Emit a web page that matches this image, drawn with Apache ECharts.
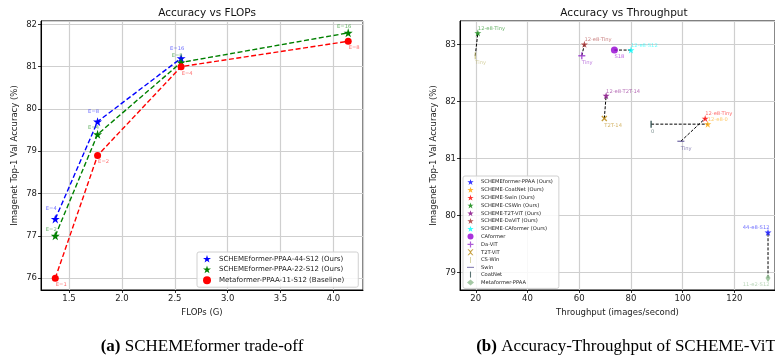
<!DOCTYPE html>
<html><head><meta charset="utf-8">
<script src="https://cdn.jsdelivr.net/npm/echarts@6/dist/echarts.min.js"></script>
<style>html,body{margin:0;padding:0;background:#fff}#c{width:775px;height:358px}</style>
</head><body><div id="c"></div>
<script>
// ---- Left chart data: Accuracy vs FLOPs ----
const flops = [1.37, 1.77, 2.56, 4.14];
const acc44 = [77.4, 79.7, 81.2];
const acc22 = [77.0, 79.4, 81.1, 81.8];
const acc11 = [76.0, 78.9, 81.0, 81.6];
const e44 = ['E=4', 'E=8', 'E=16'];
const e22 = ['E=2', 'E=4', 'E=8', 'E=16'];
const e11 = ['E=1', 'E=2', 'E=4', 'E=8'];
const leftNames = ['SCHEMEformer-PPAA-44-S12 (Ours)', 'SCHEMEformer-PPAA-22-S12 (Ours)', 'Metaformer-PPAA-11-S12 (Baseline)'];

// ---- Right chart data: Accuracy vs Throughput ----
const oursNames = ['SCHEMEformer-PPAA (Ours)', 'SCHEME-CoatNet (Ours)', 'SCHEME-Swin (Ours)', 'SCHEME-CSWin (Ours)', 'SCHEME-T2T-ViT (Ours)', 'SCHEME-DaViT (Ours)', 'SCHEME-CAformer (Ours)'];
const oursThroughput = [133, 109.7, 108.7, 20.8, 70.4, 62.0, 80.0];
const oursAcc = [79.7, 81.6, 81.7, 83.2, 82.1, 83.0, 82.9];
const oursLabels = ['44-e8-S12', '12-e8-0', '12-e8-Tiny', '12-e8-Tiny', '12-e8-T2T-14', '12-e8-Tiny', '12-e8-S12'];
const baseNames = ['Metaformer-PPAA', 'CoatNet', 'Swin', 'CS-Win', 'T2T-ViT', 'Da-ViT', 'CAformer'];
const baseThroughput = [133, 87.8, 99.3, 19.8, 69.7, 61.0, 73.6];
const baseAcc = [78.9, 81.6, 81.3, 82.8, 81.7, 82.8, 82.9];
const baseLabels = ['11-e2-S12', '0', 'Tiny', 'Tiny', 'T2T-14', 'Tiny', 'S18'];

// ---- styles ----
const STAR = 'path://M0,-10L2.245,-3.09L9.51,-3.09L3.633,1.18L5.878,8.09L0,3.82L-5.878,8.09L-3.633,1.18L-9.51,-3.09L-2.245,-3.09Z';
const PLUS = 'path://M4,0h2v4h4v2h-4v4h-2v-4h-4v-2h4z';
const VBAR = 'path://M0,0h1.3v10h-1.3z';
const VBAR2 = 'path://M0,0h1.8v10h-1.8z';
const HBAR = 'path://M0,0h10v1.3h-10z';
const oursColors = ['#0000ff', '#ffa500', '#ff0000', '#008000', '#800080', '#a52a2a', '#00ffff'];
const baseColors = ['#8fbc8f', '#2f4f4f', '#483d8b', '#bdb76b', '#b8860b', '#9932cc', '#9400d3'];
const baseSymbols = [
  {symbol: 'diamond', size: [5, 8], rot: 0, icon: 'diamond'},
  {symbol: 'rect', size: [1.6, 7], rot: 0, icon: VBAR2},
  {symbol: 'rect', size: [7, 1.2], rot: 0, icon: HBAR},
  {symbol: 'rect', size: [1.2, 7], rot: 0, icon: VBAR},
  {symbol: PLUS, size: [7, 7], rot: 45, icon: 'path://M0,0L2,0L5,3L8,0L10,0L6,4.5L6,5.5L10,10L8,10L5,7L2,10L0,10L4,5.5L4,4.5Z'},
  {symbol: PLUS, size: [7, 7], rot: 0, icon: PLUS},
  {symbol: 'circle', size: [7, 7], rot: 0, icon: 'circle'}
];
function alpha(hex, a) {
  const n = parseInt(hex.slice(1), 16);
  return 'rgba(' + ((n >> 16) & 255) + ',' + ((n >> 8) & 255) + ',' + (n & 255) + ',' + a + ')';
}
const FONT = 'DejaVu Sans';
const gridLine = {show: true, lineStyle: {color: '#cfcfcf', width: 1.2}};
const axisLine = {show: true, lineStyle: {color: '#000', width: 1}};
const axisTick = {show: true, length: 3, lineStyle: {color: '#000', width: 0.8}};
const axisLabel = {fontFamily: FONT, fontSize: 8.5, color: '#222', margin: 4, showMinLabel: false, showMaxLabel: false};
const nameStyle = {fontFamily: FONT, fontSize: 8.5, color: '#222'};

function leftSeries(name, ys, labels, color, sym, symSize, off) {
  return {
    name: name, type: 'line', xAxisIndex: 0, yAxisIndex: 0,
    data: ys.map((y, i) => ({value: [flops[i], y], label: {formatter: labels[i]}})),
    symbol: sym, symbolSize: symSize,
    itemStyle: {color: color},
    lineStyle: {color: color, width: 1.4, type: [5, 2.5]},
    label: {show: true, position: 'inside', align: 'center', verticalAlign: 'middle', offset: off,
      fontFamily: FONT, fontSize: 5.2, color: alpha(color, 0.6)},
    emphasis: {disabled: true}, animation: false, z: 3
  };
}

const series = [
  leftSeries(leftNames[0], acc44, e44, '#0000ff', STAR, 9, [-4, -10]),
  leftSeries(leftNames[1], acc22, e22, '#008000', STAR, 9, [-4, -6.5]),
  leftSeries(leftNames[2], acc11, e11, '#ff0000', 'circle', 7, [6, 6.5])
];

// connectors
for (let i = 0; i < oursNames.length; i++) {
  series.push({
    type: 'line', xAxisIndex: 1, yAxisIndex: 1, silent: true, symbol: 'none',
    data: [[baseThroughput[i], baseAcc[i]], [oursThroughput[i], oursAcc[i]]],
    lineStyle: {color: '#000', width: 1, type: [3, 1.6]}, animation: false, z: 2
  });
}
for (let i = 0; i < oursNames.length; i++) {
  const right = i === 0;
  series.push({
    name: oursNames[i], type: 'scatter', xAxisIndex: 1, yAxisIndex: 1,
    data: [{value: [oursThroughput[i], oursAcc[i]], label: {formatter: oursLabels[i]}}],
    symbol: STAR, symbolSize: 7, itemStyle: {color: oursColors[i]},
    label: {show: true, position: 'inside', align: right ? 'right' : 'left', verticalAlign: 'middle',
      offset: right ? [1.5, -4.5] : [0, -4.5], fontFamily: FONT, fontSize: 5.2, color: alpha(oursColors[i], 0.75)},
    emphasis: {disabled: true}, animation: false, z: 4
  });
}
for (let i = 0; i < baseNames.length; i++) {
  const right = i === 0;
  const s = baseSymbols[i];
  series.push({
    name: baseNames[i], type: 'scatter', xAxisIndex: 1, yAxisIndex: 1,
    data: [{value: [baseThroughput[i], baseAcc[i]], label: {formatter: baseLabels[i]}}],
    symbol: s.symbol, symbolSize: s.size, symbolRotate: s.rot, itemStyle: {color: baseColors[i]},
    label: {show: true, position: 'inside', align: right ? 'right' : 'left', verticalAlign: 'middle',
      offset: right ? [1.5, 7] : [0, 7], fontFamily: FONT, fontSize: 5.2, color: alpha(baseColors[i], 0.8)},
    emphasis: {disabled: true}, animation: false, z: 3
  });
}

const legendRightData = oursNames.map(n => ({name: n, icon: STAR}))
  .concat(baseNames.map((n, i) => ({name: n, icon: baseSymbols[i].icon})).reverse());

const captionStyle = {fontFamily: 'Liberation Serif', fontSize: 17, fontWeight: 'normal', color: '#000',
  rich: {b: {fontFamily: 'Liberation Serif', fontSize: 17, fontWeight: 'bold', color: '#000'}}};

const option = {
  backgroundColor: '#fff',
  animation: false,
  title: [
    {text: 'Accuracy vs FLOPs', left: 202, top: 3, textAlign: 'center',
      textStyle: {fontFamily: FONT, fontSize: 10.5, fontWeight: 'normal', color: '#111'}},
    {text: 'Accuracy vs Throughput', left: 619, top: 3, textAlign: 'center',
      textStyle: {fontFamily: FONT, fontSize: 10.5, fontWeight: 'normal', color: '#111'}},
    {text: '{b|(a)} SCHEMEformer trade-off', left: 197, top: 333, textAlign: 'center', textStyle: captionStyle},
    {text: '{b|(b)} Accuracy-Throughput of SCHEME-ViT', left: 621, top: 333, textAlign: 'center', textStyle: captionStyle}
  ],
  grid: [
    {left: 41, top: 21, width: 322, height: 269, show: true, borderColor: '#000', borderWidth: 1, backgroundColor: 'transparent'},
    {left: 460, top: 21, right: -4, height: 269, show: true, borderColor: '#000', borderWidth: 1, backgroundColor: 'transparent'}
  ],
  xAxis: [
    {type: 'value', gridIndex: 0, min: 1.235, max: 4.28, splitNumber: 6,
      name: 'FLOPs (G)', nameLocation: 'middle', nameGap: 17, nameTextStyle: nameStyle,
      axisLine: axisLine, axisTick: axisTick, axisLabel: Object.assign({}, axisLabel, {formatter: v => v.toFixed(1)}), splitLine: gridLine},
    {type: 'value', gridIndex: 1, min: 13.9, max: 135.7, splitNumber: 6,
      name: 'Throughput (images/second)', nameLocation: 'middle', nameGap: 17, nameTextStyle: nameStyle,
      axisLine: axisLine, axisTick: axisTick, axisLabel: axisLabel, splitLine: gridLine}
  ],
  yAxis: [
    {type: 'value', gridIndex: 0, min: 75.72, max: 82.08, splitNumber: 6,
      name: 'Imagenet Top-1 Val Accuracy (%)', nameLocation: 'middle', nameGap: 22, nameTextStyle: nameStyle,
      axisLine: axisLine, axisTick: axisTick, axisLabel: axisLabel, splitLine: gridLine},
    {type: 'value', gridIndex: 1, min: 78.69, max: 83.41, splitNumber: 5,
      name: 'Imagenet Top-1 Val Accuracy (%)', nameLocation: 'middle', nameGap: 22, nameTextStyle: nameStyle,
      axisLine: axisLine, axisTick: axisTick, axisLabel: axisLabel, splitLine: gridLine}
  ],
  legend: [
    {orient: 'vertical', left: 197, top: 252, padding: [3, 14, 3, 6], itemGap: 3, itemWidth: 8, itemHeight: 8,
      backgroundColor: 'rgba(255,255,255,0.85)', borderColor: '#d0d0d0', borderWidth: 1, borderRadius: 2,
      textStyle: {fontFamily: FONT, fontSize: 7, color: '#222', padding: [0, 0, 0, 3]},
      data: [{name: leftNames[0], icon: STAR}, {name: leftNames[1], icon: STAR}, {name: leftNames[2], icon: 'circle'}],
      selectedMode: false},
    {orient: 'vertical', left: 463, top: 176, padding: [3, 6, 3, 4], itemGap: 1.8, itemWidth: 7, itemHeight: 6,
      backgroundColor: 'rgba(255,255,255,0.85)', borderColor: '#d0d0d0', borderWidth: 1, borderRadius: 2,
      textStyle: {fontFamily: FONT, fontSize: 5.2, color: '#222', padding: [0, 0, 0, 2]},
      data: legendRightData, selectedMode: false}
  ],
  series: series
};
const chart = echarts.init(document.getElementById('c'), null, {renderer: 'canvas'});
chart.setOption(option);
</script></body></html>
